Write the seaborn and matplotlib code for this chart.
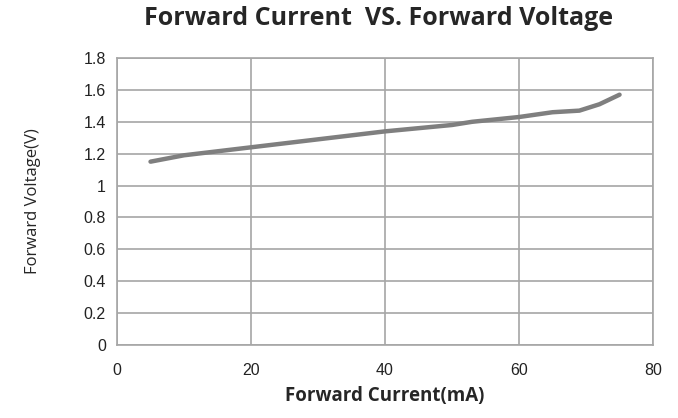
import numpy as np
import pandas as pd
import matplotlib
matplotlib.use('Agg')
import matplotlib.pyplot as plt
import seaborn as sns
from matplotlib.ticker import FuncFormatter

# values
current_ma = [5, 10, 20, 30, 40, 50, 53, 60, 65, 69, 72, 75]
voltage_v = [1.15, 1.19, 1.24, 1.29, 1.34, 1.38, 1.40, 1.43, 1.46, 1.47, 1.51, 1.57]
x_ticks = [0, 20, 40, 60, 80]
y_ticks = [0, 0.2, 0.4, 0.6, 0.8, 1.0, 1.2, 1.4, 1.6, 1.8]

df = pd.DataFrame({'current': current_ma, 'voltage': voltage_v})

sns.set_style('white')
plt.rcParams['font.family'] = ['Liberation Sans', 'DejaVu Sans']

fig = plt.figure(figsize=(6.78, 4.18), dpi=100)
ax = fig.add_axes([0.1726, 0.1746, 0.7906, 0.6866])

sns.lineplot(data=df, x='current', y='voltage', ax=ax, color='#7f7f7f', linewidth=3.2,
             solid_capstyle='round')

ax.set_xlim(0, 80)
ax.set_ylim(0, 1.8)
ax.set_xticks(x_ticks)
ax.set_yticks(y_ticks)
ax.yaxis.set_major_formatter(FuncFormatter(lambda v, p: '%g' % round(v, 1)))
ax.grid(True, color='#a6a6a6', linewidth=1.2)
ax.set_axisbelow(True)
for s in ax.spines.values():
    s.set_color('#a6a6a6')
    s.set_linewidth(1.2)
ax.tick_params(axis='both', length=5, width=1.2, color='#a6a6a6', labelsize=11.5, labelcolor='#222222', pad=3)
ax.tick_params(axis='x', pad=8)

ax.set_xlabel('Forward Current(mA)', fontsize=13.5, fontweight='bold', family=['Open Sans'], labelpad=6)
ax.set_ylabel('Forward Voltage(V)', fontsize=12, family=['Open Sans'], labelpad=0)
ax.yaxis.set_label_coords(-0.141, 0.5)
fig.text(0.559, 0.955, 'Forward Current  VS. Forward Voltage', ha='center', va='center',
         fontsize=18, fontweight='bold', family=['Open Sans'])

fig.savefig('out.png', dpi=100)
